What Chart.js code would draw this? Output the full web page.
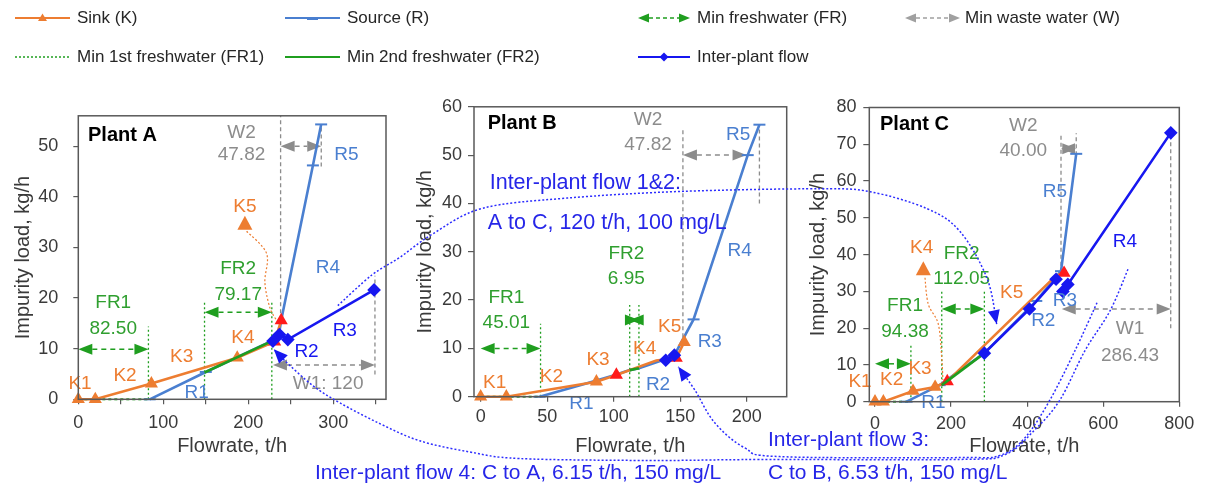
<!DOCTYPE html>
<html>
<head>
<meta charset="utf-8">
<title>Water network composite curves – Plants A, B and C</title>
<script src="https://cdn.jsdelivr.net/npm/chart.js@4.4.1/dist/chart.umd.min.js"></script>
<style>
  html, body { margin: 0; padding: 0; background: #fff; }
  #wrap { position: relative; width: 1209px; height: 490px; overflow: hidden; background: #fff; }
  #wrap canvas { position: absolute; }
</style>
</head>
<body>
<div id="wrap">
  <canvas id="plantA" width="400" height="370" style="left:0px;top:90px"></canvas>
  <canvas id="plantB" width="400" height="370" style="left:405px;top:90px"></canvas>
  <canvas id="plantC" width="404" height="370" style="left:805px;top:90px"></canvas>
  <canvas id="overlay" width="1209" height="490" style="left:0px;top:0px;pointer-events:none"></canvas>
</div>
<script>
// ---------------- Plant A (flowrate t/h, impurity load kg/h) ----------------
const aSinkX   = [0, 20, 86, 187, 231, 238.7];
const aSinkY   = [0, 0, 3.1, 8.2, 11.4, 15.6];
const aSourceX = [84, 150, 227, 236, 238.7, 276, 285.7];
const aSourceY = [0, 5.4, 11.5, 12.8, 15.6, 46.2, 54.3];
const aFRStart = [0, 148.5];          // FR1, FR2 start flowrate
const aFRValue = [82.50, 79.17];      // FR1, FR2
const aFresh2Y = [5.3, 11.5];
const aWStart  = [229, 238];          // W1, W2 start flowrate
const aWValue  = [120, 47.82];        // W1, W2
const aFlowX   = [229, 236.6, 246.5, 348];
const aFlowY   = [11.5, 12.8, 11.8, 21.6];
const aXTicks  = [0, 50, 100, 150, 200, 250, 300, 350];
const aXLabels = ['0', '', '100', '', '200', '', '300', ''];
const aYTicks  = [0, 10, 20, 30, 40, 50];

// ---------------- Plant B ----------------
const bSinkX   = [0, 19.3, 87, 102, 132, 147, 153];
const bSinkY   = [0, 0, 3.1, 4.5, 7.5, 8.0, 11.3];
const bSourceX = [44.3, 80, 101, 112, 118.95, 137, 145.6, 160, 200.7, 209.5];
const bSourceY = [0, 2.8, 4.5, 5.5, 5.9, 7.6, 8.6, 16.0, 50, 56.3];
const bFRStart = [0, 112];
const bFRValue = [45.01, 6.95];
const bFresh2Y = [5.5, 5.9];
const bWStart  = [152];
const bWValue  = [47.82];
const bFlowX   = [139.1, 145.6];
const bFlowY   = [7.55, 8.6];
const bXTicks  = [0, 50, 100, 150, 200];
const bXLabels = ['0', '50', '100', '150', '200'];
const bYTicks  = [0, 10, 20, 30, 40, 50, 60];

// ---------------- Plant C ----------------
const cSinkX   = [0, 22, 100, 158, 190, 476, 497];
const cSinkY   = [0, 0, 2.9, 4.0, 5.5, 34.3, 35];
const cSourceX = [83, 170, 287.5, 424, 489, 529];
const cSourceY = [0, 4.5, 13.2, 27.4, 35.5, 67.4];
const cFRStart = [0, 175.5];
const cFRValue = [94.38, 112.05];
const cFresh2Y = [4.5, 13.2];
const cWStart  = [491, 489];          // W1, W2
const cWValue  = [286.43, 40.00];
const cFlow1X  = [287.5, 406, 476];
const cFlow1Y  = [13.2, 25.2, 33.3];
const cFlow2X  = [494, 507, 777.6];
const cFlow2Y  = [30, 31.9, 73.1];
const cXTicks  = [0, 200, 400, 600, 800];
const cXLabels = ['0', '200', '400', '600', '800'];
const cYTicks  = [0, 10, 20, 30, 40, 50, 60, 70, 80];

// ---------------- styling ----------------
const FONT = '"Liberation Sans", Arial, Helvetica, sans-serif';
const ORANGE = '#ed7d31', RED = '#ff1a1a', LBLUE = '#4a7fd0', DBLUE = '#1717f0';
const GREEN = '#1f9e1f', GTEXT = '#2f9f2f', GREY = '#8c8c8c', AXIS = '#595959', TICK = '#3a3a3a';
const FLOWTXT = '#2626e8';
Chart.defaults.font.family = FONT;

const pts = (xs, ys) => xs.map((x, i) => ({ x: x, y: ys[i] }));

function buildDatasets(d, st) {
  const list = [];
  d.flows.forEach(f => list.push({
    label: 'Inter-plant flow', data: pts(f[0], f[1]), borderColor: DBLUE, borderWidth: 2.6,
    pointStyle: 'rectRot', pointRadius: 5, pointBackgroundColor: DBLUE, pointBorderColor: DBLUE, order: 0
  }));
  list.push({
    label: 'Min 2nd freshwater (FR2)',
    data: pts([d.frStart[1], d.frStart[1] + d.frValue[1]], d.fresh2Y),
    borderColor: GREEN, borderWidth: 2.6, pointRadius: 0, order: 1
  });
  list.push({
    label: 'Sink (K)', data: pts(d.sinkX, d.sinkY), borderColor: ORANGE, borderWidth: 2.6,
    pointStyle: 'triangle',
    pointRadius: d.sinkX.map((_, i) => st.sinkHide.includes(i) ? 0 : 5),
    pointBackgroundColor: d.sinkX.map((_, i) => st.sinkRed.includes(i) ? RED : ORANGE),
    pointBorderColor: d.sinkX.map((_, i) => st.sinkRed.includes(i) ? RED : ORANGE),
    order: 2
  });
  list.push({
    label: 'Source (R)', data: pts(d.sourceX, d.sourceY), borderColor: LBLUE, borderWidth: 2.6,
    pointStyle: 'line', pointRadius: d.sourceX.map((_, i) => st.srcMark.includes(i) ? 6 : 0),
    pointBorderColor: LBLUE, pointBorderWidth: 2, order: 3
  });
  list.push({
    label: 'Min 1st freshwater (FR1)',
    data: pts([d.frStart[0], d.frStart[0] + d.frValue[0]], [0, 0]),
    borderColor: GREEN, borderWidth: 2, borderDash: [3, 3], pointRadius: 0, order: 4
  });
  list.forEach(s => {
    s.showLine = true; s.clip = false; s.tension = 0; s.fill = false;
    s.pointHoverRadius = s.pointRadius;
  });
  return list;
}

// double-headed dashed arrow between two flowrates at one load level
function dashedArrow(ctx, x1, x2, y, color) {
  const L = 14, h = 5.5;
  ctx.save();
  ctx.strokeStyle = color; ctx.fillStyle = color; ctx.lineWidth = 1.5;
  if (x2 - x1 > 2 * L) {
    ctx.setLineDash([5, 4]);
    ctx.beginPath(); ctx.moveTo(x1 + L, y); ctx.lineTo(x2 - L, y); ctx.stroke();
  }
  ctx.setLineDash([]);
  ctx.beginPath(); ctx.moveTo(x1, y); ctx.lineTo(x1 + L, y - h); ctx.lineTo(x1 + L, y + h); ctx.closePath(); ctx.fill();
  ctx.beginPath(); ctx.moveTo(x2, y); ctx.lineTo(x2 - L, y - h); ctx.lineTo(x2 - L, y + h); ctx.closePath(); ctx.fill();
  ctx.restore();
}

function smoothPath(ctx, p) {
  ctx.moveTo(p[0][0], p[0][1]);
  let last = null;
  for (let i = 0; i < p.length - 1; i++) {
    const p0 = p[Math.max(i - 1, 0)], p1 = p[i], p2 = p[i + 1], p3 = p[Math.min(i + 2, p.length - 1)];
    const c1 = [p1[0] + (p2[0] - p0[0]) / 6, p1[1] + (p2[1] - p0[1]) / 6];
    const c2 = [p2[0] - (p3[0] - p1[0]) / 6, p2[1] - (p3[1] - p1[1]) / 6];
    ctx.bezierCurveTo(c1[0], c1[1], c2[0], c2[1], p2[0], p2[1]);
    last = c2;
  }
  return last;
}

function annotPlugin(spec) {
  return {
    id: 'annot',
    beforeDatasetsDraw(chart) {
      const ctx = chart.ctx, X = v => chart.scales.x.getPixelForValue(v), Y = v => chart.scales.y.getPixelForValue(v);
      ctx.save();
      spec.vlines.forEach(l => {
        ctx.beginPath();
        ctx.setLineDash(l.green ? [2, 2.5] : [4, 3]);
        ctx.strokeStyle = l.green ? GREEN : GREY; ctx.lineWidth = 1.3;
        ctx.moveTo(X(l.x), Y(l.y1)); ctx.lineTo(X(l.x), Y(l.y2)); ctx.stroke();
      });
      ctx.setLineDash([]);
      spec.arrows.forEach(a => dashedArrow(ctx, X(a.x1), X(a.x2), Y(a.y), a.green ? GREEN : GREY));
      ctx.restore();
    },
    afterDatasetsDraw(chart) {
      const ctx = chart.ctx, X = v => chart.scales.x.getPixelForValue(v), Y = v => chart.scales.y.getPixelForValue(v);
      ctx.save();
      // callout triangles with dotted leaders
      (spec.callouts || []).forEach(c => {
        ctx.beginPath();
        ctx.setLineDash([2, 2]); ctx.strokeStyle = ORANGE; ctx.lineWidth = 1.2;
        smoothPath(ctx, c.path.map(q => [X(q[0]), Y(q[1])]));
        ctx.stroke();
        ctx.setLineDash([]);
        const cx = X(c.x), cy = Y(c.y);
        ctx.fillStyle = ORANGE;
        ctx.beginPath(); ctx.moveTo(cx, cy - 8); ctx.lineTo(cx + 7.5, cy + 6); ctx.lineTo(cx - 7.5, cy + 6); ctx.closePath(); ctx.fill();
      });
      spec.texts.forEach(t => {
        ctx.font = (t.bold ? 'bold ' : '') + (t.size || 19) + 'px ' + FONT;
        ctx.fillStyle = t.c; ctx.textAlign = t.align || 'center'; ctx.textBaseline = 'middle';
        ctx.fillText(t.t, X(t.x), Y(t.y));
      });
      ctx.restore();
    },
    afterDraw(chart) {
      const a = chart.chartArea, ctx = chart.ctx;
      ctx.save();
      ctx.strokeStyle = AXIS; ctx.lineWidth = 1.5;
      ctx.strokeRect(a.left, a.top, a.right - a.left, a.bottom - a.top);
      ctx.restore();
    }
  };
}

function makeChart(id, d, st, lay, spec) {
  return new Chart(document.getElementById(id), {
    type: 'scatter',
    data: { datasets: buildDatasets(d, st) },
    options: {
      responsive: false, animation: false, devicePixelRatio: 1, events: [],
      layout: { padding: { left: 0, right: lay.padR, top: lay.padT, bottom: 0 } },
      plugins: { legend: { display: false }, tooltip: { enabled: false } },
      scales: {
        x: {
          type: 'linear', min: lay.xMin, max: lay.xMax,
          afterBuildTicks: s => { s.ticks = d.xTicks.map(v => ({ value: v })); },
          afterFit: s => { s.height = lay.xAxisH; },
          ticks: { autoSkip: false, maxRotation: 0, padding: lay.xPad, color: TICK, font: { size: 18 },
                   callback: (v, i) => d.xLabels[i] },
          grid: { drawOnChartArea: false, drawTicks: true, tickLength: 5, tickColor: AXIS, lineWidth: 1.2 },
          border: { display: false },
          title: { display: true, text: 'Flowrate, t/h', color: TICK, font: { size: 20 }, padding: { top: 0, bottom: 2 } }
        },
        y: {
          type: 'linear', min: lay.yMin, max: lay.yMax,
          afterBuildTicks: s => { s.ticks = d.yTicks.map(v => ({ value: v })); },
          afterFit: s => { s.width = lay.yAxisW; },
          ticks: { padding: lay.yPad, color: TICK, font: { size: 18 } },
          grid: { drawOnChartArea: false, drawTicks: true, tickLength: lay.yTick, tickColor: AXIS, lineWidth: 1.2 },
          border: { display: false },
          title: { display: true, text: 'Impurity load, kg/h', color: TICK, font: { size: 20 }, padding: { top: lay.yTitlePad, bottom: 0 } }
        }
      }
    },
    plugins: [annotPlugin(spec)]
  });
}

// ---------------- Plant A ----------------
const plantA = makeChart('plantA',
  { sinkX: aSinkX, sinkY: aSinkY, sourceX: aSourceX, sourceY: aSourceY, frStart: aFRStart, frValue: aFRValue,
    fresh2Y: aFresh2Y, flows: [[aFlowX, aFlowY]], xTicks: aXTicks, xLabels: aXLabels, yTicks: aYTicks },
  { sinkRed: [4, 5], sinkHide: [], srcMark: [0, 1, 5, 6] },
  { xMin: 0, xMax: 362, yMin: 0, yMax: 56, padR: 14, padT: 12.7, yAxisW: 78.3, xAxisH: 60.7, xPad: 8, yPad: 15, yTick: 5, yTitlePad: 11 },
  {
    vlines: [
      { x: aFRStart[0] + aFRValue[0], y1: 0, y2: 14.4, green: true },
      { x: aFRStart[1], y1: 0, y2: 19.4, green: true },
      { x: aFRStart[1] + aFRValue[1], y1: 0, y2: 19.4, green: true },
      { x: aWStart[0] + aWValue[0], y1: 4.9, y2: 24.4 },
      { x: aWStart[1], y1: 15.6, y2: 56 },
      { x: aWStart[1] + aWValue[1], y1: 46, y2: 54.3 }
    ],
    arrows: [
      { x1: aFRStart[0], x2: aFRStart[0] + aFRValue[0], y: 9.9, green: true },
      { x1: aFRStart[1], x2: aFRStart[1] + aFRValue[1], y: 17.2, green: true },
      { x1: aWStart[0], x2: aWStart[0] + aWValue[0], y: 6.8 },
      { x1: aWStart[1], x2: aWStart[1] + aWValue[1], y: 50 }
    ],
    callouts: [{ x: 196, y: 34.7, path: [[198, 33.2], [221.5, 28.8], [219.5, 23.1], [225.4, 18.1], [233.2, 15.6]] }],
    texts: [
      { t: 'Plant A', x: 11.4, y: 52.1, c: '#000', bold: true, size: 20, align: 'left' },
      { t: 'K1', x: 2, y: 3.1, c: ORANGE }, { t: 'K2', x: 55, y: 4.6, c: ORANGE },
      { t: 'K3', x: 121.6, y: 8.4, c: ORANGE }, { t: 'K4', x: 193.6, y: 12.1, c: ORANGE },
      { t: 'K5', x: 196, y: 38.0, c: ORANGE },
      { t: 'R1', x: 139.2, y: 1.2, c: LBLUE }, { t: 'R2', x: 268.5, y: 9.3, c: DBLUE },
      { t: 'R3', x: 313.5, y: 13.6, c: DBLUE }, { t: 'R4', x: 293.6, y: 25.9, c: LBLUE },
      { t: 'R5', x: 315.5, y: 48.4, c: LBLUE },
      { t: 'FR1', x: 41.1, y: 19.1, c: GTEXT }, { t: aFRValue[0].toFixed(2), x: 41.1, y: 14.0, c: GTEXT },
      { t: 'FR2', x: 188.1, y: 25.7, c: GTEXT }, { t: aFRValue[1].toFixed(2), x: 188.1, y: 20.6, c: GTEXT },
      { t: 'W2', x: 192, y: 52.7, c: GREY }, { t: aWValue[1].toFixed(2), x: 192, y: 48.4, c: GREY },
      { t: 'W1: ' + aWValue[0], x: 293.9, y: 3.0, c: GREY }
    ]
  });

// ---------------- Plant B ----------------
const plantB = makeChart('plantB',
  { sinkX: bSinkX, sinkY: bSinkY, sourceX: bSourceX, sourceY: bSourceY, frStart: bFRStart, frValue: bFRValue,
    fresh2Y: bFresh2Y, flows: [[bFlowX, bFlowY]], xTicks: bXTicks, xLabels: bXLabels, yTicks: bYTicks },
  { sinkRed: [3, 5], sinkHide: [4], srcMark: [0, 7, 8, 9] },
  { xMin: -5, xMax: 230, yMin: 0, yMax: 60, padR: 18.3, padT: 14, yAxisW: 69, xAxisH: 63.3, xPad: 5, yPad: 6, yTick: 6, yTitlePad: 8 },
  {
    vlines: [
      { x: bFRStart[0] + bFRValue[0], y1: 0, y2: 15.1, green: true },
      { x: bFRStart[1], y1: 0, y2: 19, green: true },
      { x: bFRStart[1] + bFRValue[1], y1: 0, y2: 19, green: true },
      { x: bWStart[0], y1: 12.3, y2: 55.2 },
      { x: 209.5, y1: 40, y2: 56 }
    ],
    arrows: [
      { x1: bFRStart[0], x2: bFRStart[0] + bFRValue[0], y: 10, green: true },
      { x1: bFRStart[1], x2: bFRStart[1] + bFRValue[1], y: 15.9, green: true },
      { x1: bWStart[0], x2: bWStart[0] + bWValue[0], y: 50 }
    ],
    texts: [
      { t: 'Plant B', x: 5.3, y: 56.5, c: '#000', bold: true, size: 20, align: 'left' },
      { t: 'K1', x: 10.5, y: 2.8, c: ORANGE }, { t: 'K2', x: 53.2, y: 4.1, c: ORANGE },
      { t: 'K3', x: 88.2, y: 7.6, c: ORANGE }, { t: 'K4', x: 123.3, y: 10.0, c: ORANGE },
      { t: 'K5', x: 142.1, y: 14.4, c: ORANGE },
      { t: 'R1', x: 75.7, y: -1.4, c: LBLUE }, { t: 'R2', x: 133.3, y: 2.4, c: LBLUE },
      { t: 'R3', x: 172.2, y: 11.3, c: LBLUE }, { t: 'R4', x: 194.7, y: 30.2, c: LBLUE },
      { t: 'R5', x: 193.5, y: 54.2, c: LBLUE },
      { t: 'FR1', x: 19.3, y: 20.5, c: GTEXT }, { t: bFRValue[0].toFixed(2), x: 19.3, y: 15.4, c: GTEXT },
      { t: 'FR2', x: 109.5, y: 29.5, c: GTEXT }, { t: bFRValue[1].toFixed(2), x: 109.5, y: 24.4, c: GTEXT },
      { t: 'W2', x: 125.8, y: 57.3, c: GREY }, { t: bWValue[0].toFixed(2), x: 125.8, y: 52.1, c: GREY },
      { t: 'Inter-plant flow 1&2:', x: 6.8, y: 44.2, c: FLOWTXT, size: 21.5, align: 'left' },
      { t: 'A to C, 120 t/h, 100 mg/L', x: 5.3, y: 36.0, c: FLOWTXT, size: 21.5, align: 'left' }
    ]
  });

// ---------------- Plant C ----------------
const plantC = makeChart('plantC',
  { sinkX: cSinkX, sinkY: cSinkY, sourceX: cSourceX, sourceY: cSourceY, frStart: cFRStart, frValue: cFRValue,
    fresh2Y: cFresh2Y, flows: [[cFlow1X, cFlow1Y], [cFlow2X, cFlow2Y]], xTicks: cXTicks, xLabels: cXLabels, yTicks: cYTicks },
  { sinkRed: [4, 6], sinkHide: [5], srcMark: [0, 1, 3, 4, 5] },
  { xMin: -15, xMax: 800, yMin: 0, yMax: 80, padR: 29.7, padT: 15, yAxisW: 64.3, xAxisH: 58.3, xPad: 7, yPad: 6.7, yTick: 6, yTitlePad: 1 },
  {
    vlines: [
      { x: cFRStart[0] + cFRValue[0], y1: 0, y2: 15.3, green: true },
      { x: cFRStart[1], y1: 0, y2: 30.1, green: true },
      { x: cFRStart[1] + cFRValue[1], y1: 0, y2: 30.1, green: true },
      { x: cWStart[1], y1: 37, y2: 73 },
      { x: cWStart[1] + cWValue[1], y1: 67, y2: 73 },
      { x: cWStart[0] + cWValue[0], y1: 20, y2: 73 }
    ],
    arrows: [
      { x1: cFRStart[0], x2: cFRStart[0] + cFRValue[0], y: 10.3, green: true },
      { x1: cFRStart[1], x2: cFRStart[1] + cFRValue[1], y: 25.2, green: true },
      { x1: cWStart[1], x2: cWStart[1] + cWValue[1], y: 68.8 },
      { x1: cWStart[0], x2: cWStart[0] + cWValue[0], y: 25.2 }
    ],
    callouts: [{ x: 127, y: 36, path: [[131.4, 33.7], [140.1, 26.5], [166.4, 21.1], [175.3, 12.1], [178.5, 5.9]] }],
    texts: [
      { t: 'Plant C', x: 13.1, y: 75.4, c: '#000', bold: true, size: 20, align: 'left' },
      { t: 'K1', x: -39.4, y: 5.4, c: ORANGE }, { t: 'K2', x: 43.9, y: 5.9, c: ORANGE },
      { t: 'K3', x: 118.3, y: 9.0, c: ORANGE }, { t: 'K4', x: 122.8, y: 41.8, c: ORANGE },
      { t: 'K5', x: 359.4, y: 29.7, c: ORANGE },
      { t: 'R1', x: 153.3, y: -0.4, c: LBLUE }, { t: 'R2', x: 442.4, y: 22.0, c: LBLUE },
      { t: 'R3', x: 499.5, y: 27.4, c: LBLUE }, { t: 'R4', x: 657.2, y: 43.6, c: DBLUE },
      { t: 'R5', x: 473.2, y: 57.1, c: LBLUE },
      { t: 'FR1', x: 78.9, y: 26.1, c: GTEXT }, { t: cFRValue[0].toFixed(2), x: 78.9, y: 18.9, c: GTEXT },
      { t: 'FR2', x: 227.9, y: 40.3, c: GTEXT }, { t: cFRValue[1].toFixed(2), x: 227.9, y: 33.3, c: GTEXT },
      { t: 'W2', x: 389.8, y: 75.1, c: GREY }, { t: cWValue[1].toFixed(2), x: 389.8, y: 68.3, c: GREY },
      { t: 'W1', x: 670.3, y: 19.8, c: GREY }, { t: cWValue[0].toFixed(2), x: 670.3, y: 12.6, c: GREY }
    ]
  });

// ---------------- figure-level layer: legend, inter-plant connectors, notes ----------------
const plants = { A: plantA, B: plantB, C: plantC };
function pagePt(key, x, y) {
  const ch = plants[key];
  return [ch.canvas.offsetLeft + ch.scales.x.getPixelForValue(x), ch.canvas.offsetTop + ch.scales.y.getPixelForValue(y)];
}

// connector routes, each waypoint given in the axes of the plant it sits next to
const connectors = [
  // flow 1&2: A -> C
  [['A', 305.3, 18.5], ['A', 345, 24.5], ['A', 378, 28], ['B', -36, 33.7], ['B', 1.5, 39.0], ['B', 64.7, 41.1],
   ['B', 151.9, 42.5], ['C', -144.6, 57.9], ['C', -13.1, 57.1], ['C', 136.7, 52.5], ['C', 223.4, 46.3],
   ['C', 294.4, 33.6], ['C', 320, 21.1]],
  // flow 3: C -> B
  [['C', 583.6, 26.9], ['C', 525.8, 13.9], ['C', 460, 0.5], ['C', 394.3, -9.8], ['C', 328.6, -14.6],
   ['C', 223.4, -15.2], ['B', 224.8, -12.4], ['B', 198.5, -10.6], ['B', 175.9, -5.4], ['B', 160.9, 1.4], ['B', 148.5, 6.2]],
  // flow 4: C -> A
  [['C', 665, 36], ['C', 617.8, 24.7], ['C', 552, 13.9], ['C', 486.3, 0.5], ['C', 420.6, -7.6], ['C', 341.7, -14.4],
   ['C', 223.4, -15.7], ['B', 209.8, -13.0], ['B', 127, -13.2], ['B', 29.3, -12.8], ['A', 460.5, -10.4],
   ['A', 401.7, -8.2], ['A', 354.7, -4.8], ['A', 307.7, -0.7], ['A', 275.9, 2.7], ['A', 241.8, 7.8], ['A', 230, 9.9]]
];

const ov = document.getElementById('overlay').getContext('2d');

function headAt(ctx, tip, from, L, h, color) {
  const dx = tip[0] - from[0], dy = tip[1] - from[1], n = Math.hypot(dx, dy) || 1;
  const ux = dx / n, uy = dy / n;
  ctx.fillStyle = color;
  ctx.beginPath();
  ctx.moveTo(tip[0], tip[1]);
  ctx.lineTo(tip[0] - ux * L - uy * h, tip[1] - uy * L + ux * h);
  ctx.lineTo(tip[0] - ux * L + uy * h, tip[1] - uy * L - ux * h);
  ctx.closePath(); ctx.fill();
}

connectors.forEach(route => {
  const p = route.map(r => pagePt(r[0], r[1], r[2]));
  ov.save();
  ov.beginPath();
  ov.setLineDash([2, 2]); ov.strokeStyle = '#2d2dff'; ov.lineWidth = 1.5;
  const c2 = smoothPath(ov, p);
  ov.stroke();
  ov.setLineDash([]);
  headAt(ov, p[p.length - 1], c2, 14, 6, DBLUE);
  ov.restore();
});

// notes under the plots
function note(t, x, y, size) {
  ov.font = size + 'px ' + FONT; ov.fillStyle = FLOWTXT; ov.textAlign = 'left'; ov.textBaseline = 'middle';
  ov.fillText(t, x, y);
}
note('Inter-plant flow 4: C to A, 6.15 t/h, 150 mg/L', 315, 473, 21);
note('Inter-plant flow 3:', 768, 440, 21);
note('C to B, 6.53 t/h, 150 mg/L', 768, 473, 21);

// legend
function legendText(t, x, y) {
  ov.font = '17px ' + FONT; ov.fillStyle = '#262626'; ov.textAlign = 'left'; ov.textBaseline = 'middle';
  ov.fillText(t, x, y);
}
function seg(x1, x2, y, color, w, dash) {
  ov.save(); ov.strokeStyle = color; ov.lineWidth = w; ov.setLineDash(dash || []);
  ov.beginPath(); ov.moveTo(x1, y); ov.lineTo(x2, y); ov.stroke(); ov.restore();
}
// row 1
seg(15, 70, 18, ORANGE, 2.2);
ov.fillStyle = ORANGE; ov.beginPath(); ov.moveTo(42.5, 13.5); ov.lineTo(47, 21); ov.lineTo(38, 21); ov.closePath(); ov.fill();
legendText('Sink (K)', 77, 18);
seg(285, 340, 18, LBLUE, 2.2);
seg(307, 318, 18.5, LBLUE, 3);
legendText('Source (R)', 347, 18);
(function () {
  const L = 11, h = 4.5;
  [[638, 690, GREEN], [905, 960, '#a0a0a0']].forEach(a => {
    seg(a[0] + L, a[1] - L, 18, a[2], 1.5, [4, 3]);
    ov.fillStyle = a[2];
    ov.beginPath(); ov.moveTo(a[0], 18); ov.lineTo(a[0] + L, 18 - h); ov.lineTo(a[0] + L, 18 + h); ov.closePath(); ov.fill();
    ov.beginPath(); ov.moveTo(a[1], 18); ov.lineTo(a[1] - L, 18 - h); ov.lineTo(a[1] - L, 18 + h); ov.closePath(); ov.fill();
  });
})();
legendText('Min freshwater (FR)', 697, 18);
legendText('Min waste water (W)', 965, 18);
// row 2
seg(15, 70, 57, GREEN, 1.5, [2, 2]);
legendText('Min 1st freshwater (FR1)', 77, 57);
seg(285, 340, 57, GREEN, 2.2);
legendText('Min 2nd freshwater (FR2)', 347, 57);
seg(638, 690, 57, DBLUE, 2.2);
ov.fillStyle = DBLUE; ov.beginPath(); ov.moveTo(664, 52.5); ov.lineTo(668.5, 57); ov.lineTo(664, 61.5); ov.lineTo(659.5, 57); ov.closePath(); ov.fill();
legendText('Inter-plant flow', 697, 57);
</script>
</body>
</html>
